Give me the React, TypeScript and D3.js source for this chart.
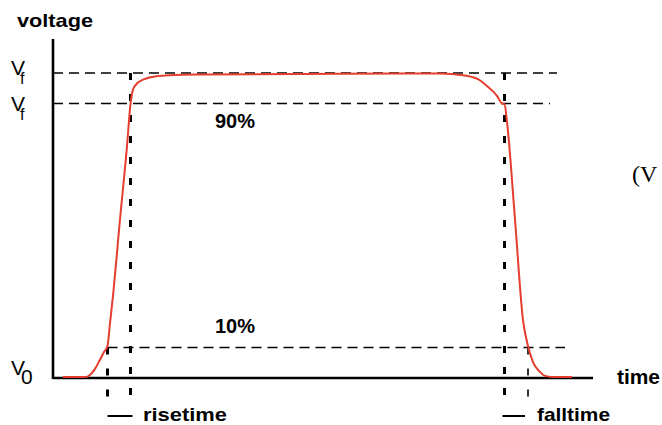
import React from "react";
import * as d3 from "d3";

// Pulse waveform: time (arbitrary units) vs voltage (fraction of Vf)
const times = [10, 32, 37, 42, 47, 51, 54.5, 57, 60, 67, 74, 77.5, 80, 83, 90, 104, 117, 150, 250, 350, 387, 410, 425, 434, 444, 449, 451.5, 454, 462, 470, 475, 480, 487, 492, 502, 519];
const volts = [0.003, 0.003, 0.01, 0.03, 0.06, 0.085, 0.105, 0.18, 0.27, 0.52, 0.76, 0.898, 0.946, 0.962, 0.978, 0.99, 0.993, 0.995, 0.997, 0.998, 0.998, 0.993, 0.98, 0.957, 0.925, 0.9, 0.898, 0.84, 0.52, 0.19, 0.105, 0.052, 0.02, 0.007, 0.003, 0.003];

const levels = [0, 0.1, 0.9, 1];
const riseTimes = [54.5, 77.5];
const fallTimes = [451.5, 475];

const W = 662, H = 425;
const x = d3.scaleLinear().domain([0, 540]).range([53, 593]);
const y = d3.scaleLinear().domain([0, 1]).range([378, 73]);

const FONT = "'Liberation Sans', Arial, Helvetica, sans-serif";

export default function App() {
  const pts = times.map((t, i) => [t, volts[i]] as [number, number]);
  const line = d3
    .line<[number, number]>()
    .x((d) => x(d[0]))
    .y((d) => y(d[1]))
    .curve(d3.curveMonotoneX);

  const hDash = { stroke: "#000", strokeWidth: 1.4, strokeDasharray: "10,6", fill: "none" };
  const vDash = { stroke: "#000", strokeWidth: 3, strokeDasharray: "7,14", fill: "none" };

  return (
    <svg width={W} height={H} style={{ position: "absolute", left: 0, top: 0, background: "#fff" }}>
      {/* horizontal reference levels */}
      <line x1={x(0)} x2={x(504)} y1={y(levels[3])} y2={y(levels[3])} {...hDash} />
      <line x1={x(0)} x2={x(497)} y1={y(levels[2])} y2={y(levels[2])} {...hDash} />
      <line x1={x(riseTimes[0])} x2={x(512)} y1={y(levels[1])} y2={y(levels[1])} {...hDash} />

      {/* vertical markers */}
      <line x1={x(riseTimes[1])} x2={x(riseTimes[1])} y1={y(levels[3])} y2={402} {...vDash} />
      <line x1={x(riseTimes[0])} x2={x(riseTimes[0])} y1={y(levels[1])} y2={400} {...vDash} />
      <line x1={x(fallTimes[0])} x2={x(fallTimes[0])} y1={y(levels[3])} y2={400} {...vDash} />
      <line x1={x(fallTimes[1])} x2={x(fallTimes[1])} y1={y(levels[1])} y2={398} {...vDash} strokeWidth={1.6} />

      {/* axes */}
      <line x1={x(0)} x2={x(0)} y1={39} y2={379} stroke="#000" strokeWidth={2.6} />
      <line x1={x(0)} x2={x(540)} y1={y(0)} y2={y(0)} stroke="#000" strokeWidth={2.6} />

      {/* waveform */}
      <path d={line(pts) ?? ""} fill="none" stroke="#e53d2f" strokeWidth={2} />

      {/* labels */}
      <text x={17} y={27} fontFamily={FONT} fontSize={19} fontWeight="bold" textLength={76} lengthAdjust="spacingAndGlyphs">voltage</text>
      <text x={617} y={384} fontFamily={FONT} fontSize={20} fontWeight="bold" textLength={43} lengthAdjust="spacingAndGlyphs">time</text>

      <text x={11} y={75} fontFamily={FONT} fontSize={21}>V<tspan dx={-5} dy={9} fontSize={16}>f</tspan></text>
      <text x={11} y={111} fontFamily={FONT} fontSize={21}>V<tspan dx={-5} dy={9} fontSize={16}>f</tspan></text>
      <text x={11} y={375} fontFamily={FONT} fontSize={21}>V<tspan dx={-4} dy={9} fontSize={21}>0</tspan></text>

      <text x={215} y={128} fontFamily={FONT} fontSize={20} fontWeight="bold">90%</text>
      <text x={215} y={333} fontFamily={FONT} fontSize={20} fontWeight="bold">10%</text>

      <line x1={x(riseTimes[0])} x2={x(riseTimes[1]) + 2} y1={416} y2={416} stroke="#000" strokeWidth={2} />
      <text x={143} y={421} fontFamily={FONT} fontSize={19} fontWeight="bold" textLength={84} lengthAdjust="spacingAndGlyphs">risetime</text>
      <line x1={x(fallTimes[0]) - 2} x2={x(fallTimes[1]) - 3} y1={416} y2={416} stroke="#000" strokeWidth={2} />
      <text x={537} y={421} fontFamily={FONT} fontSize={19} fontWeight="bold" textLength={73} lengthAdjust="spacingAndGlyphs">falltime</text>

      <text x={632} y={182} fontFamily="'Liberation Serif', 'Times New Roman', serif" fontSize={24}>(V</text>
    </svg>
  );
}
